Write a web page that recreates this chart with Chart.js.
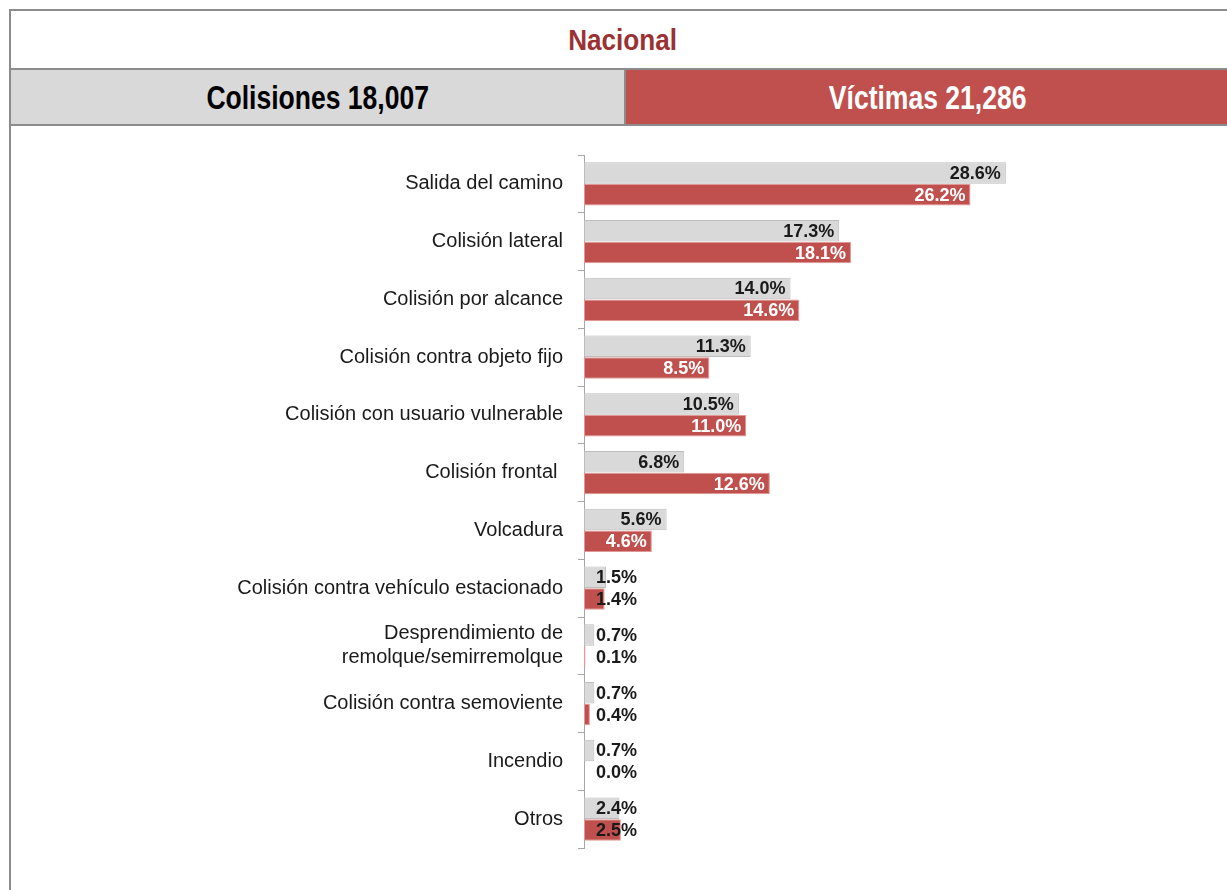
<!DOCTYPE html>
<html>
<head>
<meta charset="utf-8">
<script src="https://cdn.jsdelivr.net/npm/chart.js@4.4.0/dist/chart.umd.min.js"></script>
<style>
  body { margin: 0; background: #fff; overflow: hidden; }
  .box { position: absolute; left: 9px; top: 9px; width: 1240px; height: 900px; border: 2px solid #8c8c8c; box-sizing: border-box; }
  .title { position: absolute; left: 0; top: 0; width: 1230px; height: 58px; line-height: 58px; text-align: center;
           font-family: 'Liberation Sans', sans-serif; font-weight: bold; font-size: 30px; color: #9a3234; padding-right: 6px; box-sizing: border-box; }
  .row { position: absolute; left: 0; top: 57px; width: 1240px; height: 54px; border-top: 2px solid #8c8c8c; border-bottom: 2px solid #8c8c8c; }
  .cell { position: absolute; top: 0; height: 54px; line-height: 54px; text-align: center;
          font-family: 'Liberation Sans', sans-serif; font-weight: bold; font-size: 34px; }
  .narrow { display: inline-block; transform: scaleX(0.78); }
  .title .narrow { transform: scaleX(0.87); }
  .left { left: 0; width: 613px; background: #d9d9d9; color: #000; border-right: 2px solid #8c8c8c; }
  .right { left: 615px; width: 625px; background: #c0504d; color: #fff; padding-right: 22px; box-sizing: border-box; }
  #wrap { position: absolute; left: 10px; top: 123px; width: 1217px; height: 767px; }
</style>
</head>
<body>
<div class="box">
  <div class="title"><span class="narrow">Nacional</span></div>
  <div class="row">
    <div class="cell left"><span class="narrow">Colisiones 18,007</span></div>
    <div class="cell right"><span class="narrow">Víctimas 21,286</span></div>
  </div>
</div>
<div id="wrap"><canvas id="chart"></canvas></div>
<script>
const categories = [
    'Salida del camino',
    'Colisión lateral',
    'Colisión por alcance',
    'Colisión contra objeto fijo',
    'Colisión con usuario vulnerable',
    'Colisión frontal ',
    'Volcadura',
    'Colisión contra vehículo estacionado',
    ['Desprendimiento de', 'remolque/semirremolque'],
    'Colisión contra semoviente',
    'Incendio',
    'Otros'
];
const colisiones = [28.6, 17.3, 14.0, 11.3, 10.5, 6.8, 5.6, 1.5, 0.7, 0.7, 0.7, 2.4];
const victimas = [26.2, 18.1, 14.6, 8.5, 11.0, 12.6, 4.6, 1.4, 0.1, 0.4, 0.0, 2.5];

// value labels drawn at the end of each bar
const valueLabels = {
    id: 'valueLabels',
    afterDatasetsDraw(chart) {
        const ctx = chart.ctx;
        const xScale = chart.scales.x;
        ctx.save();
        ctx.font = 'bold 18px "Liberation Sans", Arial, sans-serif';
        ctx.textBaseline = 'middle';
        chart.data.datasets.forEach((ds, i) => {
            chart.getDatasetMeta(i).data.forEach((bar, j) => {
                const v = ds.data[j];
                const text = v.toFixed(1) + '%';
                if (v >= 4) {
                    ctx.textAlign = 'right';
                    ctx.fillStyle = i === 0 ? '#1a1a1a' : '#ffffff';
                    ctx.fillText(text, bar.x - 5, bar.y + 1);
                } else {
                    ctx.textAlign = 'left';
                    ctx.fillStyle = '#1a1a1a';
                    ctx.fillText(text, xScale.left + 12, bar.y + 1);
                }
            });
        });
        ctx.restore();
    }
};

new Chart(document.getElementById('chart'), {
    type: 'bar',
    data: {
        labels: categories,
        datasets: [{
            label: 'Colisiones',
            data: colisiones,
            backgroundColor: '#d9d9d9',
            borderColor: '#bdbdbd',
            borderWidth: 1,
            borderSkipped: false,
            categoryPercentage: 0.76,
            barPercentage: 0.98
        }, {
            label: 'Víctimas',
            data: victimas,
            backgroundColor: '#c0504d',
            borderColor: '#e09896',
            borderWidth: 1,
            borderSkipped: false,
            categoryPercentage: 0.76,
            barPercentage: 0.98
        }]
    },
    options: {
        indexAxis: 'y',
        responsive: true,
        maintainAspectRatio: false,
        animation: false,
        layout: { padding: { top: 32, bottom: 42, right: 53, left: 0 } },
        plugins: { legend: { display: false }, tooltip: { enabled: false } },
        scales: {
            x: { display: false, min: 0, max: 40 },
            y: {
                afterFit: (s) => { s.width = 574; },
                border: { display: true, color: '#a6a6a6', width: 1 },
                grid: { drawOnChartArea: false, offset: true, tickLength: 6, color: '#a6a6a6' },
                ticks: {
                    color: '#1a1a1a',
                    padding: 15,
                    font: { family: '"Liberation Sans", Arial, sans-serif', size: 20 }
                }
            }
        }
    },
    plugins: [valueLabels]
});
</script>
</body>
</html>
